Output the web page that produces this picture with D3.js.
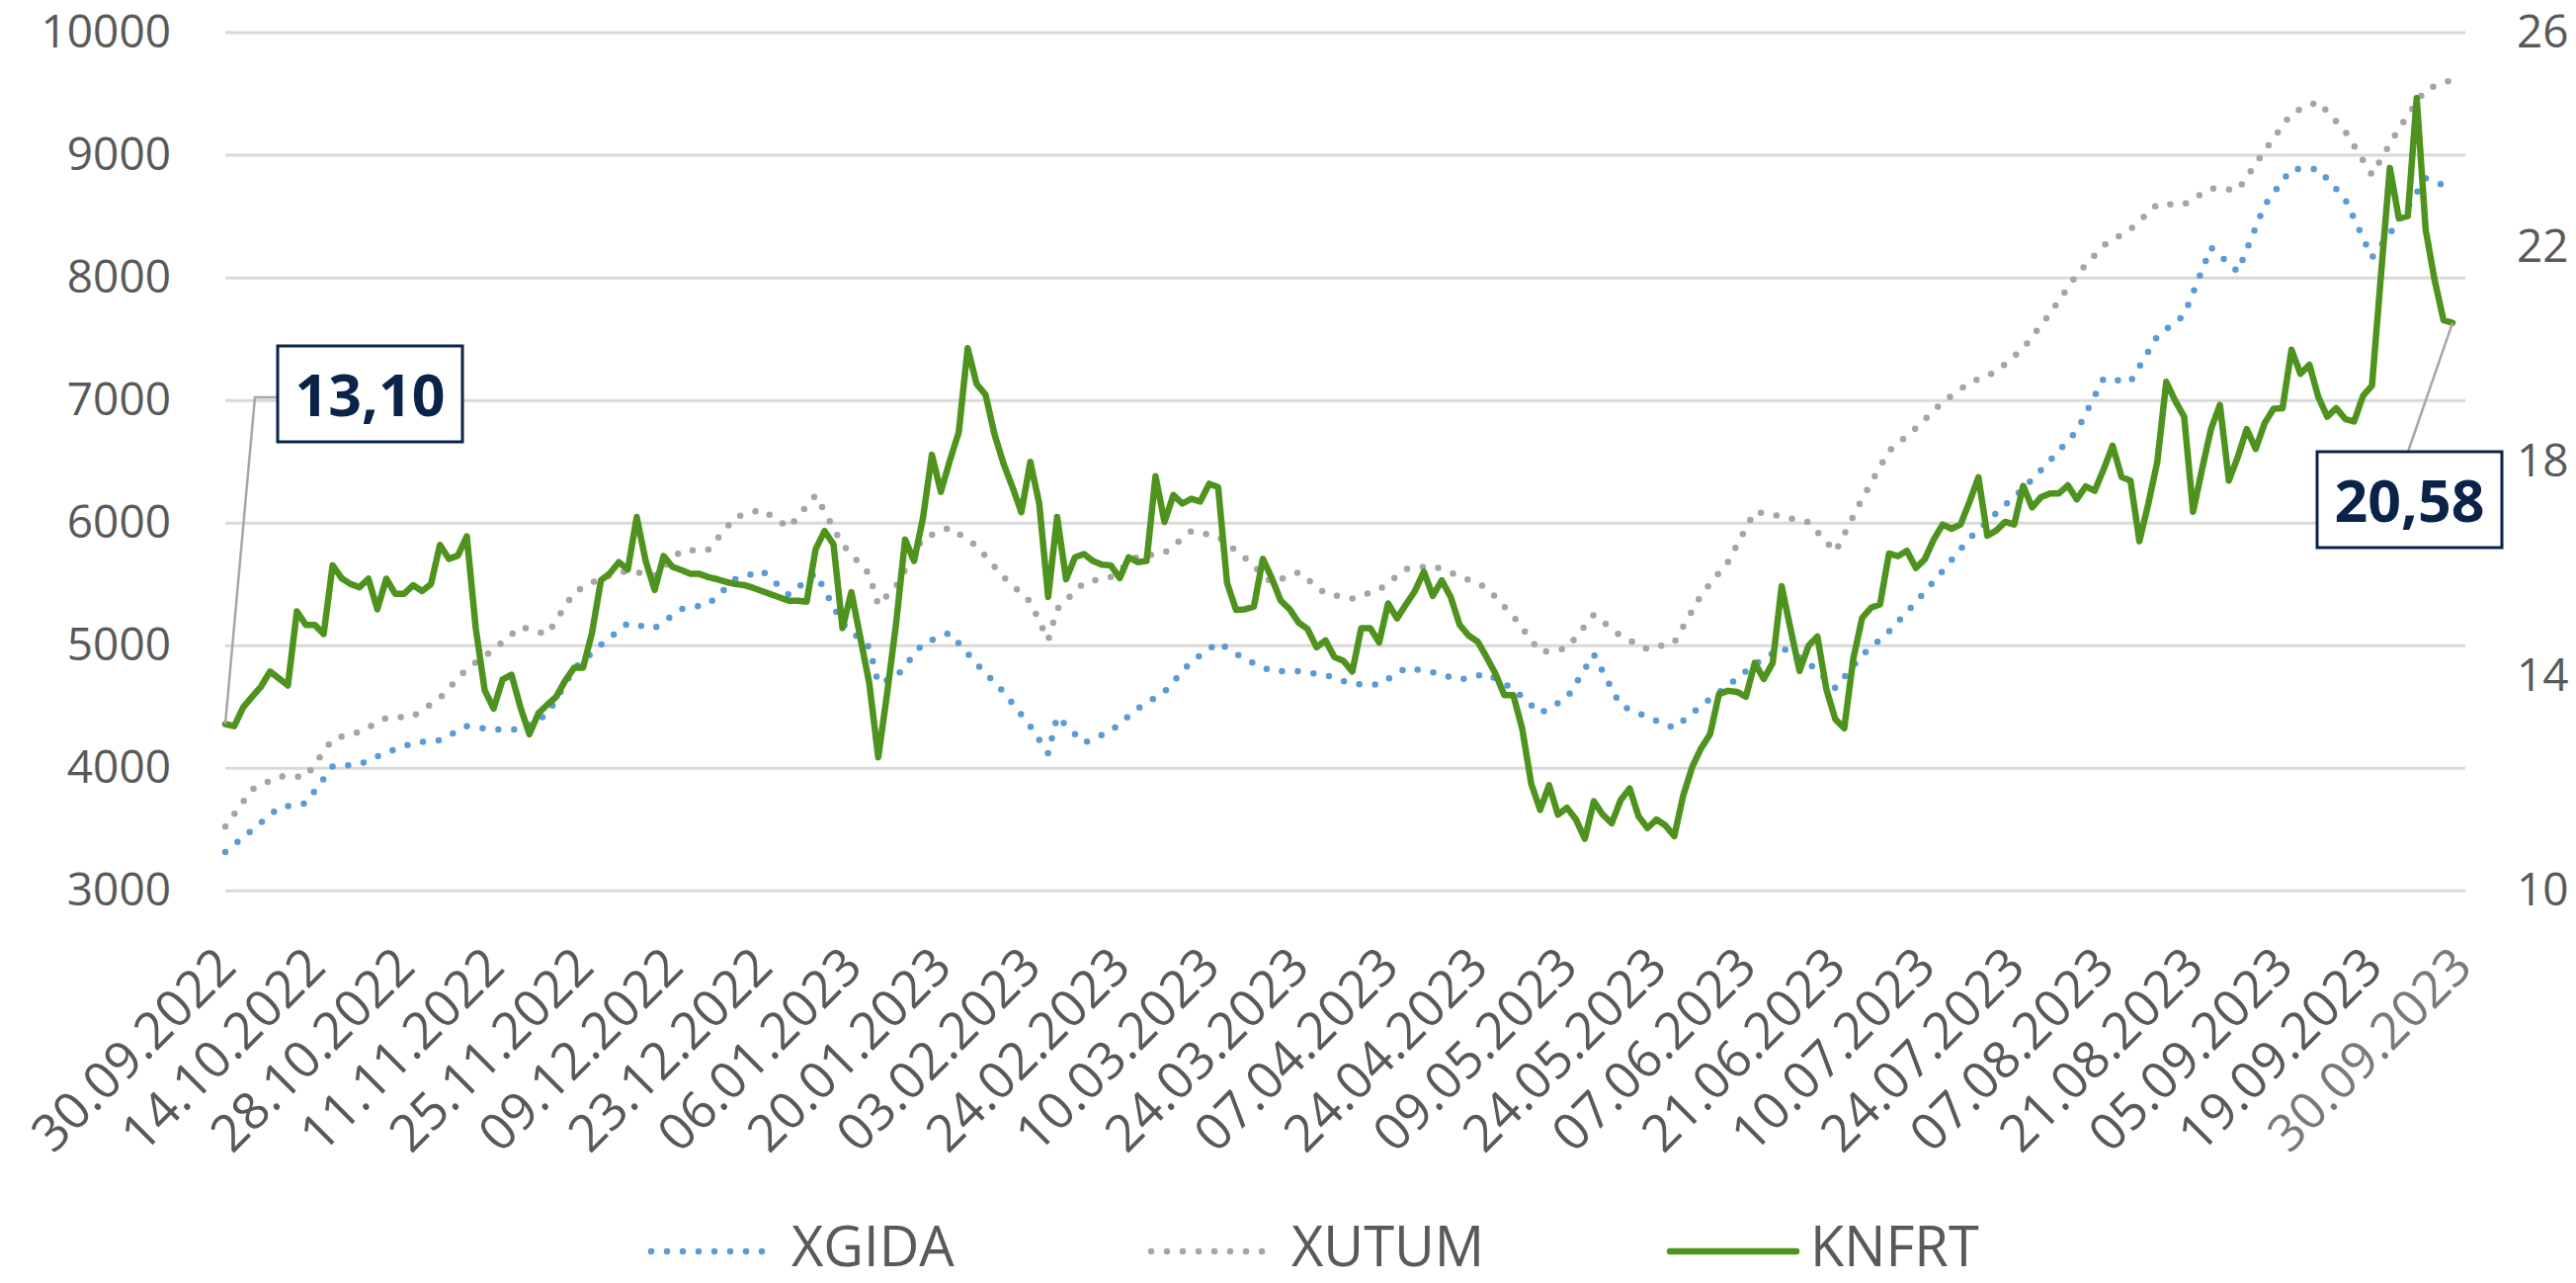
<!DOCTYPE html>
<html>
<head>
<meta charset="utf-8">
<script src="https://d3js.org/d3.v7.min.js"></script>
<style>
  body { margin: 0; background: #fff; }
  svg text { font-family: "Open Sans", sans-serif; }
</style>
</head>
<body>
<svg id="chart" width="2607" height="1298"></svg>
<script>
// x axis categories (trading day index of each label)
var tickLabels = ['30.09.2022', '14.10.2022', '28.10.2022', '11.11.2022', '25.11.2022', '09.12.2022',
  '23.12.2022', '06.01.2023', '20.01.2023', '03.02.2023', '24.02.2023', '10.03.2023', '24.03.2023',
  '07.04.2023', '24.04.2023', '09.05.2023', '24.05.2023', '07.06.2023', '21.06.2023', '10.07.2023',
  '24.07.2023', '07.08.2023', '21.08.2023', '05.09.2023', '19.09.2023', '30.09.2023'];
var tickDays = [0, 10, 20, 30, 40, 50, 60, 70, 80, 90, 100, 110, 120, 130, 140, 150, 160, 170, 180,
  190, 200, 210, 220, 230, 240, 250];

var leftTicks = [3000, 4000, 5000, 6000, 7000, 8000, 9000, 10000];
var rightTicks = [10, 14, 18, 22, 26];

// KNFRT daily close (right axis)
var knfrt = [
  13.10, 13.06, 13.41, 13.61, 13.80, 14.08, 13.95, 13.82, 15.20, 14.95,
  14.95, 14.78, 16.06, 15.82, 15.71, 15.65, 15.81, 15.24, 15.81, 15.53,
  15.53, 15.69, 15.58, 15.71, 16.44, 16.18, 16.24, 16.60, 14.89, 13.73,
  13.39, 13.93, 14.02, 13.41, 12.91, 13.30, 13.46, 13.61, 13.91, 14.15,
  14.15, 14.80, 15.78, 15.91, 16.12, 15.98, 16.96, 16.14, 15.60, 16.23,
  16.03, 15.97, 15.90, 15.90, 15.84, 15.80, 15.75, 15.71, 15.69, 15.64,
  15.58, 15.52, 15.46, 15.40, 15.40, 15.38, 16.36, 16.70, 16.45, 14.89,
  15.56, 14.71, 13.86, 12.48, 13.68, 14.98, 16.54, 16.14, 16.94, 18.12,
  17.43, 18.01, 18.54, 20.11, 19.44, 19.24, 18.50, 17.96, 17.52, 17.05,
  17.99, 17.21, 15.47, 16.96, 15.80, 16.21, 16.27, 16.14, 16.07, 16.06,
  15.82, 16.21, 16.12, 16.14, 17.72, 16.87, 17.37, 17.21, 17.30, 17.25,
  17.58, 17.52, 15.73, 15.23, 15.24, 15.29, 16.18, 15.82, 15.40, 15.24,
  14.99, 14.87, 14.53, 14.66, 14.35, 14.28, 14.08, 14.89, 14.89, 14.62,
  15.35, 15.07, 15.33, 15.58, 15.94, 15.49, 15.78, 15.47, 14.95, 14.75,
  14.64, 14.35, 14.04, 13.64, 13.64, 13.01, 11.99, 11.50, 11.96, 11.41,
  11.54, 11.32, 10.96, 11.66, 11.41, 11.25, 11.68, 11.90, 11.38, 11.16,
  11.32, 11.21, 11.01, 11.77, 12.30, 12.65, 12.91, 13.66, 13.72, 13.70,
  13.61, 14.24, 13.94, 14.24, 15.67, 14.87, 14.09, 14.56, 14.73, 13.75,
  13.19, 13.02, 14.31, 15.08, 15.27, 15.33, 16.28, 16.23, 16.33, 16.01,
  16.17, 16.54, 16.82, 16.74, 16.82, 17.24, 17.70, 16.61, 16.71, 16.87,
  16.82, 17.54, 17.14, 17.33, 17.40, 17.40, 17.55, 17.29, 17.53, 17.45,
  17.85, 18.29, 17.71, 17.64, 16.51, 17.21, 17.99, 19.48, 19.13, 18.83,
  17.06, 17.85, 18.60, 19.05, 17.64, 18.08, 18.60, 18.23, 18.71, 18.98,
  18.99, 20.08, 19.63, 19.80, 19.20, 18.83, 18.99, 18.79, 18.74, 19.22,
  19.41, 21.46, 23.47, 22.53, 22.57, 24.77, 22.32, 21.38, 20.63, 20.58
];

// index series, read every few trading days (left axis)
var dotDays = [0, 3, 6, 9, 12, 15, 18, 21, 24, 27, 30, 33, 36, 39, 42, 45, 48, 51, 54, 57, 60, 63, 66,
  69, 72, 73, 75, 78, 81, 84, 87, 90, 92, 93, 96, 99, 102, 105, 108, 111, 114, 117, 120, 123, 126,
  129, 132, 135, 138, 141, 144, 147, 150, 153, 156, 159, 162, 165, 168, 171, 174, 177, 180, 183, 186,
  189, 192, 195, 198, 201, 204, 207, 210, 213, 216, 219, 222, 225, 228, 231, 234, 237, 240, 243, 246, 249];

var xgida = [3312, 3492, 3675, 3710, 4011, 4026, 4124, 4202, 4225, 4338, 4311, 4311, 4436, 4807, 5002,
  5177, 5138, 5294, 5333, 5536, 5607, 5411, 5587, 5177, 4982, 4690,
  4740, 5013, 5099, 4846, 4619, 4338, 4116,
  4416, 4202, 4299, 4483, 4619, 4865, 5021, 4885, 4787, 4787, 4756, 4682, 4678, 4814, 4779, 4717,
  4768, 4643, 4444, 4569, 4924, 4506, 4413, 4323, 4506, 4671, 4844, 4979, 4856, 4650, 4918, 5111,
  5350, 5605, 5872, 6078, 6276, 6506, 6747, 7175, 7148, 7520, 7691, 8244, 8046, 8589, 8885, 8885,
  8638, 8161, 8457, 8809, 8721];

var xutum = [3519, 3823, 3929, 3925, 4233, 4292, 4405, 4420, 4569, 4807, 4963, 5150, 5088, 5431, 5548,
  5607, 5568, 5770, 5778, 6044, 6106, 5958, 6223, 5821, 5579, 5326,
  5482, 5872, 5958, 5809, 5556, 5353, 5040,
  5294, 5509, 5556, 5724, 5751, 5930, 5887, 5712, 5509, 5595, 5419, 5380, 5450, 5622, 5646, 5564,
  5470, 5236, 4943, 4974, 5248, 5076, 4967, 5021, 5410, 5679, 6090, 6049, 6004, 5761, 6193, 6584,
  6769, 6983, 7140, 7230, 7420, 7705, 8023, 8260, 8392, 8596, 8596, 8727, 8711, 9033, 9339, 9434,
  9191, 8836, 9214, 9533, 9612];

var seriesNames = ['XGIDA', 'XUTUM', 'KNFRT'];
var seriesColors = ['#5b9bd5', '#a5a5a5', '#4f931f'];

// layout
var plotLeft = 228, plotRight = 2482, gridEnd = 2495, plotTop = 32.6, plotBottom = 900.7;
var textColor = '#595959', navy = '#0a2449';
var dotWidth = 6.5, dotDash = '0 16';

var x = d3.scaleLinear().domain([0, knfrt.length - 1]).range([plotLeft, plotRight]);
var yL = d3.scaleLinear().domain([3000, 10000]).range([plotBottom, plotTop]);
var yR = d3.scaleLinear().domain([10, 26]).range([plotBottom, plotTop]);

var svg = d3.select('#chart');

// left axis with gridlines
var gLeft = svg.append('g')
  .attr('transform', 'translate(' + plotLeft + ',0)')
  .call(d3.axisLeft(yL).tickValues(leftTicks).tickSize(-(gridEnd - plotLeft)).tickPadding(55).tickFormat(d3.format('d')));
gLeft.select('.domain').remove();
gLeft.selectAll('.tick line').attr('stroke', '#d9d9d9').attr('stroke-width', 3);
gLeft.selectAll('.tick text').attr('fill', textColor).style('font-size', '46px');

// right axis
var gRight = svg.append('g')
  .attr('transform', 'translate(' + gridEnd + ',0)')
  .call(d3.axisRight(yR).tickValues(rightTicks).tickSize(0).tickPadding(52));
gRight.select('.domain').remove();
gRight.selectAll('.tick text').attr('fill', textColor).style('font-size', '46px');

// bottom axis, rotated date labels
var gBottom = svg.append('g')
  .attr('transform', 'translate(0,' + plotBottom + ')')
  .call(d3.axisBottom(x).tickValues(tickDays).tickSize(0)
    .tickFormat(function(d, i) { return tickLabels[i]; }));
gBottom.select('.domain').remove();
gBottom.selectAll('.tick text')
  .attr('y', 0).attr('dy', null)
  .attr('text-anchor', 'end')
  .attr('transform', 'translate(13,80) rotate(-45)')
  .attr('fill', function(d, i) { return i === tickLabels.length - 1 ? '#7a7a7a' : textColor; })
  .style('font-size', '52px');

// series
var lineL = d3.line()
  .x(function(d, i) { return x(dotDays[i]); })
  .y(function(d) { return yL(d); });
var lineR = d3.line()
  .x(function(d, i) { return x(i); })
  .y(function(d) { return yR(d); });

[xgida, xutum].forEach(function(s, k) {
  svg.append('path')
    .datum(s)
    .attr('d', lineL)
    .attr('fill', 'none')
    .attr('stroke', seriesColors[k])
    .attr('stroke-width', dotWidth)
    .attr('stroke-linecap', 'round')
    .attr('stroke-dasharray', dotDash);
});

svg.append('path')
  .datum(knfrt)
  .attr('d', lineR)
  .attr('fill', 'none')
  .attr('stroke', seriesColors[2])
  .attr('stroke-width', 6.5)
  .attr('stroke-linejoin', 'round')
  .attr('stroke-linecap', 'round');

// callouts for first and last KNFRT values
function callout(i, pts, bx, by, label) {
  var start = [x(i), yR(knfrt[i])];
  svg.append('path')
    .attr('d', d3.line()([start].concat(pts)))
    .attr('fill', 'none')
    .attr('stroke', '#a6a6a6')
    .attr('stroke-width', 2.5);
  svg.append('rect')
    .attr('x', bx).attr('y', by)
    .attr('width', 187).attr('height', 97)
    .attr('fill', '#fff')
    .attr('stroke', navy)
    .attr('stroke-width', 3);
  svg.append('text')
    .attr('x', bx + 93.5).attr('y', by + 71)
    .attr('text-anchor', 'middle')
    .attr('fill', navy)
    .style('font-size', '59px')
    .style('font-weight', 'bold')
    .text(label);
}
callout(0, [[258, 402], [281, 402]], 281, 350, '13,10');
callout(knfrt.length - 1, [[2437, 457]], 2345, 457, '20,58');

// legend
var legendX = [659, 1165, 1690];
var legend = svg.append('g').attr('transform', 'translate(0,1266)');
seriesNames.forEach(function(name, k) {
  var item = legend.append('g').attr('transform', 'translate(' + legendX[k] + ',0)');
  var ln = item.append('line')
    .attr('x1', 0).attr('x2', 128)
    .attr('stroke', seriesColors[k])
    .attr('stroke-linecap', 'round');
  if (k < 2) {
    ln.attr('stroke-width', dotWidth).attr('stroke-dasharray', dotDash);
  } else {
    ln.attr('stroke-width', 6.5);
  }
  item.append('text')
    .attr('x', 142).attr('y', 15)
    .attr('fill', textColor)
    .style('font-size', '56px')
    .text(name);
});
</script>
</body>
</html>
